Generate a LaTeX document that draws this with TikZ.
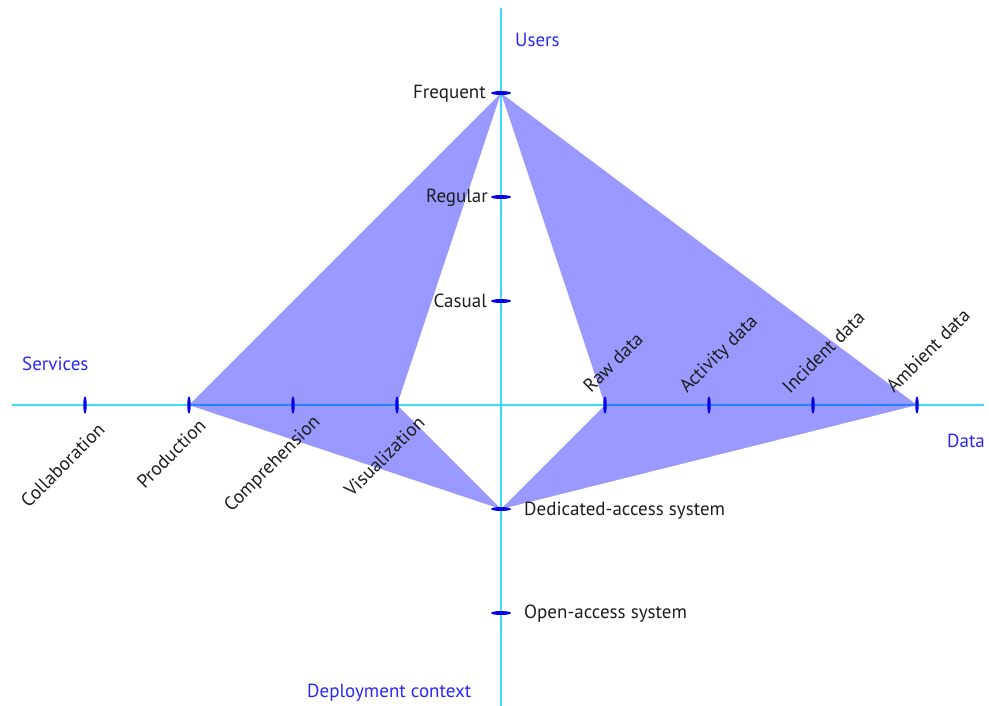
\documentclass[tikz,border=0pt]{standalone}
\usepackage{fontspec}
\setmainfont{PT Sans}
\usetikzlibrary{shapes.geometric}
\definecolor{axiscol}{RGB}{60,220,255}
\definecolor{tickcol}{RGB}{0,0,230}
\definecolor{labcol}{RGB}{30,30,30}
\definecolor{titlecol}{RGB}{40,40,250}
\begin{document}
\begin{tikzpicture}[x=1pt,y=-1pt,
  axis/.style={draw=axiscol, line width=1.2pt},
  htick/.style={ellipse, fill=tickcol, minimum width=3.5pt, minimum height=17pt, inner sep=0pt},
  vtick/.style={ellipse, fill=tickcol, minimum width=20pt, minimum height=4pt, inner sep=0pt},
  lab/.style={text=labcol, font=\fontsize{19}{22}\selectfont, inner sep=0pt},
  ttl/.style={text=titlecol, font=\fontsize{19}{22}\selectfont, inner sep=0pt},
  area/.style={fill=blue, fill opacity=0.4}]
\useasboundingbox (0,0) rectangle (989,706);
% axes
\coordinate (axT) at (501,8);
\coordinate (axB) at (501,706);
\coordinate (axL) at (12,405);
\coordinate (axR) at (984,405);
\draw[axis] (axL) -- (axR);
\draw[axis] (axT) -- (axB);
% tick anchors
\coordinate (pfreq) at (501,93);
\coordinate (preg) at (501,197);
\coordinate (pcas) at (501,301);
\coordinate (pded) at (501,509);
\coordinate (popen) at (501,613);
\coordinate (pcol) at (85,405);
\coordinate (pprod) at (189,405);
\coordinate (pcomp) at (293,405);
\coordinate (pvis) at (397,405);
\coordinate (praw) at (605,405);
\coordinate (pact) at (709,405);
\coordinate (pinc) at (813,405);
\coordinate (pamb) at (917,405);
% filled areas
\fill[area] (pfreq) -- (pprod) -- (pded) -- (pvis) -- cycle;
\fill[area] (pfreq) -- (pamb) -- (pded) -- (praw) -- cycle;
% ticks
\node[vtick] (freq) at (pfreq) {};
\node[vtick] (reg) at (preg) {};
\node[vtick] (cas) at (pcas) {};
\node[vtick] (ded) at (pded) {};
\node[vtick] (open) at (popen) {};
\node[htick] (col) at (pcol) {};
\node[htick] (prod) at (pprod) {};
\node[htick] (comp) at (pcomp) {};
\node[htick] (vis) at (pvis) {};
\node[htick] (raw) at (praw) {};
\node[htick] (act) at (pact) {};
\node[htick] (inc) at (pinc) {};
\node[htick] (amb) at (pamb) {};
% vertical axis labels
\node[lab, anchor=base east] (lfreq) at (486,99) {Frequent};
\node[lab, anchor=base east] (lreg) at (488,203) {Regular};
\node[lab, anchor=base east] (lcas) at (487,307) {Casual};
\node[lab, anchor=base west] (lded) at (524,515) {Dedicated-access system};
\node[lab, anchor=base west] (lopen) at (524,618) {Open-access system};
% horizontal axis labels
\node[lab, rotate=45, anchor=base east] (lcol) at (106,431) {Collaboration};
\node[lab, rotate=45, anchor=base east] (lprod) at (207,427) {Production};
\node[lab, rotate=45, anchor=base east] (lcomp) at (321,423) {Comprehension};
\node[lab, rotate=45, anchor=base east] (lvis) at (426,424) {Visualization};
\node[lab, rotate=45, anchor=base west] (lraw) at (591,394) {Raw data};
\node[lab, rotate=45, anchor=base west] (lact) at (687,394) {Activity data};
\node[lab, rotate=45, anchor=base west] (linc) at (790,395) {Incident data};
\node[lab, rotate=45, anchor=base west] (lamb) at (894,394) {Ambient data};
% axis titles
\node[ttl, anchor=base west] (tusers) at (515,47) {Users};
\node[ttl, anchor=base west] (tserv) at (22,370) {Services};
\node[ttl, anchor=base west] (tdata) at (947,447) {Data};
\node[ttl, anchor=base west] (tdep) at (307,697) {Deployment context};
\end{tikzpicture}
\end{document}
